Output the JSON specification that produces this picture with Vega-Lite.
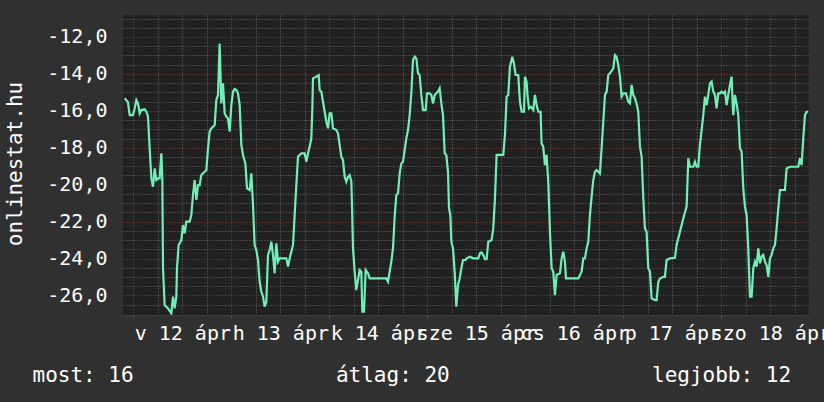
{
  "$schema": "https://vega.github.io/schema/vega-lite/v6.json",
  "width": 686,
  "height": 300,
  "autosize": {"type": "none"},
  "padding": {"left": 123, "top": 15, "right": 15, "bottom": 87},
  "background": "#303030",
  "config": {"view": {"fill": "#212121", "stroke": null}, "font": "DejaVu Sans Mono"},
  "data": {"values": [
    {"h":-2.11,"v":-15.32},{"h":-1.30,"v":-15.54},{"h":-0.89,"v":-16.23},{"h":-0.07,"v":-16.23},{"h":0.34,"v":-15.87},{"h":0.75,"v":-15.41},{"h":1.15,"v":-15.60},{"h":1.56,"v":-16.14},{"h":1.97,"v":-15.96},{"h":2.79,"v":-15.92},{"h":3.19,"v":-16.05},{"h":3.60,"v":-16.32},{"h":4.01,"v":-18.03},{"h":4.42,"v":-19.66},{"h":4.83,"v":-20.11},{"h":5.24,"v":-19.12},{"h":5.64,"v":-19.75},{"h":6.05,"v":-19.66},{"h":6.46,"v":-19.66},{"h":6.87,"v":-18.30},{"h":7.11,"v":-19.66},{"h":7.28,"v":-24.53},{"h":7.68,"v":-26.52},{"h":8.50,"v":-26.70},{"h":9.32,"v":-26.97},{"h":9.72,"v":-26.07},{"h":10.13,"v":-26.70},{"h":10.54,"v":-26.07},{"h":10.70,"v":-24.53},{"h":11.11,"v":-23.27},{"h":11.77,"v":-23.00},{"h":12.17,"v":-22.19},{"h":12.58,"v":-22.64},{"h":12.99,"v":-22.00},{"h":13.81,"v":-22.00},{"h":14.21,"v":-21.64},{"h":14.62,"v":-20.56},{"h":15.03,"v":-19.75},{"h":15.44,"v":-20.83},{"h":15.85,"v":-20.02},{"h":16.26,"v":-20.02},{"h":16.66,"v":-19.48},{"h":17.48,"v":-19.30},{"h":17.89,"v":-19.21},{"h":18.30,"v":-18.03},{"h":18.70,"v":-17.13},{"h":19.11,"v":-16.95},{"h":19.93,"v":-16.77},{"h":20.34,"v":-15.41},{"h":20.75,"v":-15.14},{"h":21.15,"v":-12.35},{"h":21.56,"v":-15.60},{"h":21.97,"v":-14.51},{"h":22.38,"v":-16.14},{"h":22.79,"v":-16.32},{"h":23.19,"v":-16.41},{"h":23.60,"v":-17.13},{"h":24.01,"v":-15.69},{"h":24.42,"v":-14.96},{"h":24.83,"v":-14.82},{"h":25.24,"v":-14.87},{"h":25.64,"v":-15.05},{"h":26.05,"v":-15.69},{"h":26.46,"v":-17.85},{"h":26.87,"v":-18.39},{"h":27.44,"v":-18.85},{"h":27.85,"v":-20.20},{"h":28.50,"v":-20.29},{"h":28.91,"v":-19.39},{"h":29.32,"v":-21.10},{"h":29.72,"v":-23.27},{"h":30.13,"v":-23.54},{"h":30.54,"v":-24.08},{"h":30.95,"v":-25.26},{"h":31.36,"v":-25.80},{"h":31.77,"v":-26.07},{"h":32.17,"v":-26.61},{"h":32.58,"v":-26.34},{"h":32.99,"v":-23.81},{"h":33.40,"v":-23.54},{"h":33.81,"v":-23.09},{"h":34.21,"v":-23.81},{"h":34.62,"v":-24.80},{"h":35.03,"v":-23.18},{"h":35.44,"v":-24.17},{"h":35.85,"v":-23.99},{"h":37.48,"v":-23.99},{"h":37.89,"v":-24.44},{"h":38.30,"v":-23.99},{"h":39.11,"v":-23.27},{"h":39.52,"v":-21.64},{"h":39.93,"v":-20.02},{"h":40.34,"v":-18.48},{"h":41.15,"v":-18.30},{"h":41.97,"v":-18.30},{"h":42.38,"v":-18.76},{"h":42.79,"v":-18.30},{"h":43.19,"v":-17.94},{"h":43.60,"v":-17.49},{"h":43.85,"v":-15.87},{"h":44.01,"v":-14.24},{"h":44.83,"v":-14.15},{"h":45.40,"v":-14.06},{"h":45.64,"v":-14.87},{"h":46.05,"v":-14.96},{"h":46.46,"v":-15.51},{"h":46.87,"v":-16.05},{"h":47.28,"v":-16.59},{"h":47.68,"v":-16.95},{"h":48.09,"v":-16.14},{"h":48.50,"v":-16.14},{"h":48.91,"v":-16.95},{"h":49.72,"v":-17.04},{"h":50.13,"v":-17.22},{"h":50.54,"v":-17.85},{"h":50.95,"v":-18.48},{"h":51.36,"v":-18.67},{"h":51.77,"v":-19.57},{"h":52.17,"v":-19.84},{"h":52.58,"v":-19.57},{"h":52.99,"v":-19.48},{"h":53.40,"v":-19.84},{"h":53.56,"v":-21.10},{"h":53.81,"v":-23.45},{"h":54.21,"v":-24.71},{"h":54.62,"v":-25.71},{"h":55.44,"v":-24.62},{"h":55.85,"v":-24.71},{"h":56.09,"v":-26.88},{"h":56.50,"v":-26.88},{"h":56.91,"v":-24.62},{"h":57.48,"v":-24.80},{"h":57.89,"v":-25.08},{"h":58.70,"v":-25.08},{"h":61.97,"v":-25.08},{"h":62.38,"v":-25.26},{"h":62.79,"v":-24.71},{"h":63.19,"v":-24.17},{"h":63.60,"v":-23.45},{"h":64.01,"v":-21.74},{"h":64.42,"v":-20.56},{"h":64.83,"v":-20.47},{"h":65.24,"v":-19.39},{"h":65.64,"v":-18.85},{"h":66.05,"v":-18.76},{"h":66.87,"v":-17.49},{"h":67.28,"v":-17.04},{"h":67.68,"v":-16.23},{"h":68.09,"v":-15.05},{"h":68.50,"v":-13.25},{"h":68.91,"v":-13.07},{"h":69.32,"v":-13.16},{"h":69.72,"v":-13.97},{"h":70.13,"v":-14.06},{"h":70.54,"v":-15.14},{"h":70.95,"v":-15.96},{"h":71.60,"v":-15.96},{"h":71.93,"v":-15.05},{"h":72.58,"v":-15.05},{"h":72.99,"v":-15.14},{"h":73.40,"v":-15.60},{"h":73.81,"v":-15.14},{"h":74.21,"v":-15.05},{"h":74.62,"v":-14.96},{"h":75.03,"v":-14.78},{"h":75.44,"v":-15.60},{"h":75.85,"v":-16.23},{"h":76.26,"v":-18.30},{"h":76.66,"v":-18.39},{"h":77.07,"v":-19.30},{"h":77.32,"v":-21.28},{"h":77.64,"v":-21.64},{"h":77.89,"v":-23.09},{"h":78.30,"v":-23.45},{"h":78.70,"v":-24.71},{"h":79.11,"v":-26.61},{"h":79.52,"v":-25.44},{"h":79.93,"v":-25.08},{"h":80.34,"v":-24.53},{"h":80.75,"v":-24.08},{"h":81.40,"v":-24.08},
    {"h":81.63,"v":-23.99},{"h":82.45,"v":-23.90},{"h":83.26,"v":-23.99},{"h":84.49,"v":-23.99},{"h":84.90,"v":-23.72},{"h":85.30,"v":-23.67},{"h":85.71,"v":-23.81},{"h":86.12,"v":-24.03},{"h":86.53,"v":-24.03},{"h":86.94,"v":-23.09},{"h":87.75,"v":-23.00},{"h":88.16,"v":-22.37},{"h":88.57,"v":-20.74},{"h":88.98,"v":-18.39},{"h":89.79,"v":-18.39},{"h":90.61,"v":-18.39},{"h":91.02,"v":-17.31},{"h":91.43,"v":-15.23},{"h":91.83,"v":-15.14},{"h":92.24,"v":-13.61},{"h":92.81,"v":-13.07},{"h":93.22,"v":-13.43},{"h":93.63,"v":-14.06},{"h":94.28,"v":-14.06},{"h":94.69,"v":-15.51},{"h":95.10,"v":-16.05},{"h":95.67,"v":-16.05},{"h":95.92,"v":-14.15},{"h":96.32,"v":-14.42},{"h":96.57,"v":-15.23},{"h":96.90,"v":-15.87},{"h":97.39,"v":-15.78},{"h":97.96,"v":-15.96},{"h":98.36,"v":-15.14},{"h":98.77,"v":-15.69},{"h":99.18,"v":-16.05},{"h":99.75,"v":-16.05},{"h":99.98,"v":-17.76},{"h":100.39,"v":-17.94},{"h":100.81,"v":-18.94},{"h":101.22,"v":-18.39},{"h":101.63,"v":-19.84},{"h":102.04,"v":-22.55},{"h":102.45,"v":-24.53},{"h":102.85,"v":-24.71},{"h":103.26,"v":-25.98},{"h":103.67,"v":-24.89},{"h":104.49,"v":-24.80},{"h":104.90,"v":-23.99},{"h":105.30,"v":-23.63},{"h":105.71,"v":-24.17},{"h":105.96,"v":-25.08},{"h":106.94,"v":-25.08},{"h":108.98,"v":-25.08},{"h":109.79,"v":-24.71},{"h":110.20,"v":-23.99},{"h":110.61,"v":-23.99},{"h":111.02,"v":-23.45},{"h":111.43,"v":-23.09},{"h":111.83,"v":-21.64},{"h":112.24,"v":-20.65},{"h":112.65,"v":-19.75},{"h":113.06,"v":-19.30},{"h":113.47,"v":-19.21},{"h":113.88,"v":-19.30},{"h":114.28,"v":-19.39},{"h":114.69,"v":-18.03},{"h":115.10,"v":-16.59},{"h":115.51,"v":-15.14},{"h":115.92,"v":-14.96},{"h":116.32,"v":-14.06},{"h":116.73,"v":-13.97},{"h":117.55,"v":-13.70},{"h":117.96,"v":-12.98},{"h":118.36,"v":-13.07},{"h":118.77,"v":-13.52},{"h":119.18,"v":-14.15},{"h":119.59,"v":-15.23},{"h":120.00,"v":-15.05},{"h":120.65,"v":-15.05},{"h":121.22,"v":-15.51},{"h":121.63,"v":-15.60},{"h":122.04,"v":-14.60},{"h":122.45,"v":-15.14},{"h":122.85,"v":-15.32},{"h":123.26,"v":-15.60},{"h":123.67,"v":-16.05},{"h":124.08,"v":-17.94},{"h":124.49,"v":-18.48},{"h":124.90,"v":-20.74},{"h":125.30,"v":-22.37},{"h":125.71,"v":-22.55},{"h":126.12,"v":-24.53},{"h":126.53,"v":-24.71},{"h":126.94,"v":-26.16},{"h":127.75,"v":-26.25},{"h":128.16,"v":-26.25},{"h":128.57,"v":-25.26},{"h":128.98,"v":-25.08},{"h":129.79,"v":-24.99},{"h":130.20,"v":-24.99},{"h":130.61,"v":-24.08},{"h":131.43,"v":-23.99},{"h":132.65,"v":-23.96},{"h":133.06,"v":-23.27},{"h":133.87,"v":-22.55},{"h":134.69,"v":-21.83},{"h":135.51,"v":-21.19},{"h":135.92,"v":-18.57},{"h":136.32,"v":-19.03},{"h":137.14,"v":-19.03},{"h":137.55,"v":-18.76},{"h":137.96,"v":-19.03},{"h":138.36,"v":-19.03},{"h":138.77,"v":-17.85},{"h":139.59,"v":-16.23},{"h":140.00,"v":-15.23},{"h":140.41,"v":-15.69},{"h":140.81,"v":-15.14},{"h":141.22,"v":-14.51},{"h":141.63,"v":-14.42},{"h":142.04,"v":-14.96},{"h":142.45,"v":-15.14},{"h":142.85,"v":-15.87},{"h":143.26,"v":-15.05},{"h":143.67,"v":-15.05},{"h":144.08,"v":-14.96},{"h":144.49,"v":-15.05},{"h":144.90,"v":-14.96},{"h":145.30,"v":-15.69},{"h":145.71,"v":-15.14},{"h":146.12,"v":-14.60},{"h":146.53,"v":-14.15},{"h":146.77,"v":-15.60},{"h":146.94,"v":-16.23},{"h":147.34,"v":-15.14},{"h":147.75,"v":-15.60},{"h":148.16,"v":-16.23},{"h":148.57,"v":-18.03},{"h":148.98,"v":-18.21},{"h":149.39,"v":-20.20},{"h":149.79,"v":-21.19},{"h":150.20,"v":-21.64},{"h":150.61,"v":-23.45},{"h":151.02,"v":-26.07},{"h":151.43,"v":-26.07},{"h":151.83,"v":-24.53},{"h":152.24,"v":-24.17},{"h":152.65,"v":-24.44},{"h":153.06,"v":-23.45},{"h":153.47,"v":-24.26},{"h":153.87,"v":-23.90},{"h":154.28,"v":-23.81},{"h":154.69,"v":-24.17},{"h":155.10,"v":-24.35},{"h":155.51,"v":-24.99},{"h":155.92,"v":-23.99},{"h":156.32,"v":-23.81},{"h":156.73,"v":-23.45},{"h":157.14,"v":-23.27},{"h":157.55,"v":-22.37},{"h":157.96,"v":-21.28},{"h":158.36,"v":-20.29},{"h":159.02,"v":-20.29},{"h":159.59,"v":-20.29},{"h":160.00,"v":-19.12},{"h":160.81,"v":-19.03},{"h":162.04,"v":-19.03},{"h":162.85,"v":-19.03},{"h":163.26,"v":-18.57},{"h":163.67,"v":-18.94},{"h":164.08,"v":-17.49},{"h":164.49,"v":-16.23},{"h":164.90,"v":-16.05},{"h":165.30,"v":-16.05}
  ]},
  "layer": [
    {
      "mark": {"type": "line", "opacity": 0},
      "encoding": {
        "x": {"field": "h", "type": "quantitative",
          "scale": {"domain": [-2.52, 165.48], "nice": false, "zero": false},
          "axis": {"orient": "bottom",
            "values": [6,12,18,30,36,42,54,60,66,78,84,90,102,108,114,126,132,138,150,156,162],
            "grid": true, "gridColor": "#6a6a6a", "gridDash": [1,2], "gridWidth": 1,
            "ticks": false, "tickSize": 0, "domain": true, "domainColor": "#3c3c3c",
            "labelExpr": "datum.value % 24 == 12 ? ['v 12 ápr','h 13 ápr','k 14 ápr','sze 15 ápr','cs 16 ápr','p 17 ápr','szo 18 ápr'][floor(datum.value/24)] : ''",
            "labelOverlap": false, "labelBound": false, "labelFlush": false,
            "labelFont": "DejaVu Sans Mono", "labelFontSize": 20, "labelColor": "#ffffff",
            "labelBaseline": "alphabetic", "labelPadding": 24, "labelAlign": "center",
            "title": "most: 16\u00a0\u00a0\u00a0\u00a0\u00a0\u00a0\u00a0\u00a0\u00a0\u00a0\u00a0\u00a0\u00a0\u00a0\u00a0\u00a0átlag: 20\u00a0\u00a0\u00a0\u00a0\u00a0\u00a0\u00a0\u00a0\u00a0\u00a0\u00a0\u00a0\u00a0\u00a0\u00a0\u00a0legjobb: 12",
            "titleFont": "DejaVu Sans Mono", "titleFontSize": 21, "titleFontWeight": "normal",
            "titleColor": "#ffffff", "titleAlign": "left", "titleBaseline": "alphabetic",
            "titleAnchor": "start", "titleX": -91, "titleY": 66}},
        "y": {"field": "v", "type": "quantitative",
          "scale": {"domain": [-27.06, -10.81], "nice": false, "zero": false},
          "axis": {"orient": "left",
            "values": [-26.5,-25.5,-25,-24.5,-23.5,-23,-22.5,-21.5,-21,-20.5,-19.5,-19,-18.5,-17.5,-17,-16.5,-15.5,-15,-14.5,-13.5,-13,-12.5,-11.5,-11],
            "grid": true, "gridColor": "#6a6a6a", "gridDash": [1,2], "gridWidth": 1,
            "ticks": false, "labels": false, "domain": false, "title": null}}
      }
    },
    {
      "mark": {"type": "line", "color": "#70f0b4", "strokeWidth": 2.2, "clip": true},
      "encoding": {
        "x": {"field": "h", "type": "quantitative",
          "axis": {"orient": "bottom", "values": [0,24,48,72,96,120,144],
            "grid": true, "gridColor": "#8a3c3c", "gridDash": [1,2], "gridWidth": 1,
            "ticks": true, "tickSize": 3, "tickColor": "#8a3a3a", "labels": false,
            "domain": false, "title": null}},
        "y": {"field": "v", "type": "quantitative",
          "axis": {"orient": "left", "values": [-26,-24,-22,-20,-18,-16,-14,-12],
            "grid": true, "gridColor": "#8a3c3c", "gridDash": [1,2], "gridWidth": 1,
            "ticks": false, "tickSize": 0, "domain": false,
            "labelExpr": "'-' + abs(datum.value) + ',0'",
            "labelFont": "DejaVu Sans Mono", "labelFontSize": 20, "labelColor": "#ffffff",
            "labelPadding": 16, "labelBaseline": "middle",
            "title": "onlinestat.hu", "titleFont": "DejaVu Sans Mono", "titleFontSize": 21,
            "titleFontWeight": "normal", "titleColor": "#ffffff", "titleAngle": -90,
            "titleAlign": "center", "titleBaseline": "alphabetic", "titleX": -102, "titleY": 148.5}}
      }
    }
  ],
  "resolve": {"axis": {"x": "independent", "y": "independent"}}
}
